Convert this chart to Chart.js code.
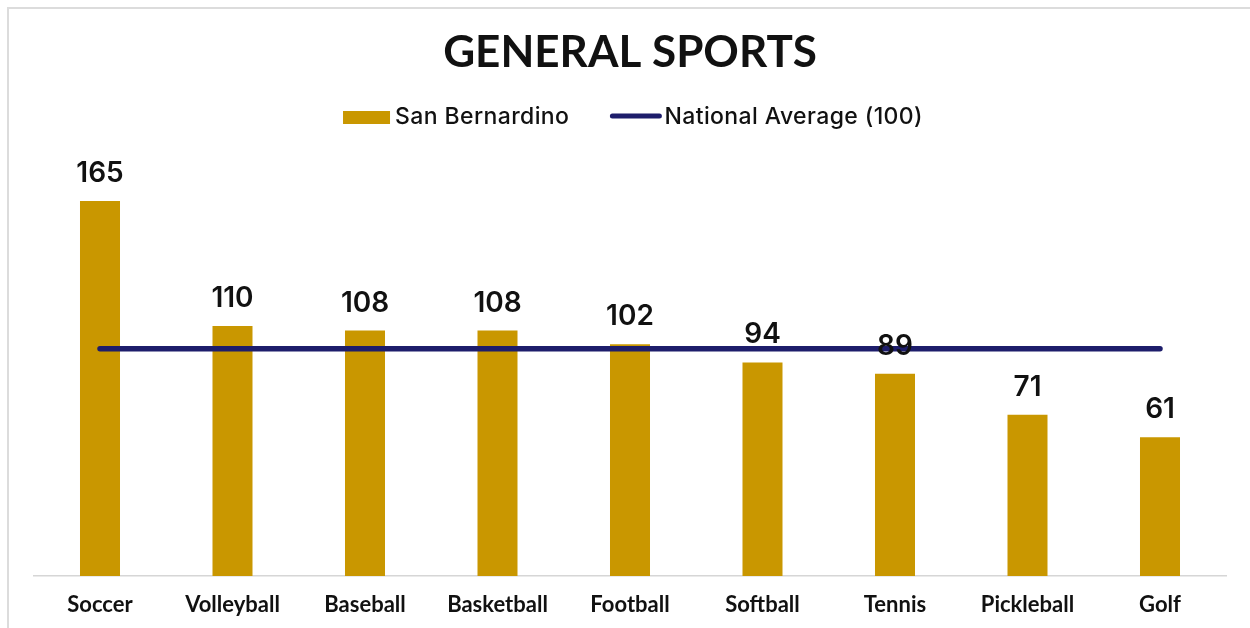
<!DOCTYPE html>
<html>
<head>
<meta charset="utf-8">
<title>General Sports</title>
<script src="https://cdn.jsdelivr.net/npm/chart.js@4"></script>
<style>
  html, body { margin: 0; padding: 0; background: #ffffff; }
  #wrap { position: relative; width: 1250px; height: 628px; overflow: hidden; }
  #frame { position: absolute; left: 7px; top: 7px; width: 1400px; height: 800px;
           border: 2px solid #dcdcdc; box-sizing: border-box; }
  #chart { position: absolute; left: 0; top: 0; }
</style>
</head>
<body>
<div id="wrap">
  <div id="frame"></div>
  <canvas id="chart" width="1250" height="628"></canvas>
</div>
<script>
// Sports participation index by category
const categories = ['Soccer', 'Volleyball', 'Baseball', 'Basketball', 'Football', 'Softball', 'Tennis', 'Pickleball', 'Golf'];
const sanBernardino = [165, 110, 108, 108, 102, 94, 89, 71, 61];
const nationalAverage = [100, 100, 100, 100, 100, 100, 100, 100, 100];
const seriesNames = ['San Bernardino', 'National Average (100)'];
const chartTitle = 'GENERAL SPORTS';

const GOLD = '#c99700';
const NAVY = '#1d1d6b';
const INK = '#111111';

// Value labels above each bar
const valueLabels = {
  id: 'valueLabels',
  afterDatasetsDraw(chart) {
    const ctx = chart.ctx;
    const meta = chart.getDatasetMeta(0);
    ctx.save();
    ctx.font = '600 28px Inter, "Open Sans", sans-serif';
    ctx.fillStyle = INK;
    ctx.textAlign = 'center';
    ctx.textBaseline = 'alphabetic';
    meta.data.forEach((bar, i) => {
      ctx.fillText(String(chart.data.datasets[0].data[i]), bar.x, bar.y - 19);
    });
    ctx.restore();
  }
};

// Legend row under the title: box swatch for the bars, line swatch for the average
const legendRow = {
  id: 'legendRow',
  afterDraw(chart) {
    const ctx = chart.ctx;
    const ds = chart.data.datasets;
    ctx.save();
    ctx.font = '500 23px Inter, "Open Sans", sans-serif';
    if ('letterSpacing' in ctx) ctx.letterSpacing = '0.4px';
    ctx.textBaseline = 'middle';
    ctx.textAlign = 'left';
    const y = 117;
    const w1 = ctx.measureText(ds[0].label).width;
    const w2 = ctx.measureText(ds[1].label).width;
    const boxW = 47, gap1 = 5, between = 41, lineW = 51, gap2 = 3;
    const total = boxW + gap1 + w1 + between + lineW + gap2 + w2;
    let x = (chart.chartArea.left + chart.chartArea.right) / 2 + 3 - total / 2;
    ctx.fillStyle = ds[0].backgroundColor;
    ctx.fillRect(x, 111, boxW, 13);
    x += boxW + gap1;
    ctx.fillStyle = INK;
    ctx.fillText(ds[0].label, x, y);
    x += w1 + between;
    ctx.strokeStyle = ds[1].borderColor;
    ctx.lineWidth = 5;
    ctx.lineCap = 'round';
    ctx.beginPath();
    ctx.moveTo(x + 2, 116);
    ctx.lineTo(x + lineW - 2, 116);
    ctx.stroke();
    x += lineW + gap2;
    ctx.fillText(ds[1].label, x, y);
    ctx.restore();
  }
};

new Chart(document.getElementById('chart'), {
  type: 'bar',
  data: {
    labels: categories,
    datasets: [
      {
        type: 'bar',
        label: seriesNames[0],
        data: sanBernardino,
        backgroundColor: GOLD,
        borderWidth: 0,
        categoryPercentage: 1,
        barPercentage: 0.302,
        order: 1
      },
      {
        type: 'line',
        label: seriesNames[1],
        data: nationalAverage,
        borderColor: NAVY,
        backgroundColor: NAVY,
        borderWidth: 5.5,
        borderCapStyle: 'round',
        pointRadius: 0,
        pointHoverRadius: 0,
        fill: false,
        order: 0
      }
    ]
  },
  options: {
    responsive: false,
    animation: false,
    events: [],
    layout: { padding: { left: 33.75, right: 23.75, top: 0, bottom: 0 } },
    plugins: {
      legend: { display: false },
      tooltip: { enabled: false },
      title: {
        display: true,
        text: chartTitle,
        color: INK,
        font: { family: 'Lato', size: 44, weight: 'bold', lineHeight: 1.2 },
        padding: { top: 26, bottom: 99.5 }
      }
    },
    scales: {
      x: {
        grid: { display: false, drawTicks: false },
        border: { display: true, color: '#d6d6d6', width: 1.5 },
        ticks: {
          color: INK,
          padding: 16,
          font: { family: 'Lato', size: 22, weight: 'bold' }
        },
        afterFit(scale) { scale.height = 52; }
      },
      y: {
        display: false,
        min: 0,
        max: 175
      }
    }
  },
  plugins: [valueLabels, legendRow]
});
</script>
</body>
</html>
